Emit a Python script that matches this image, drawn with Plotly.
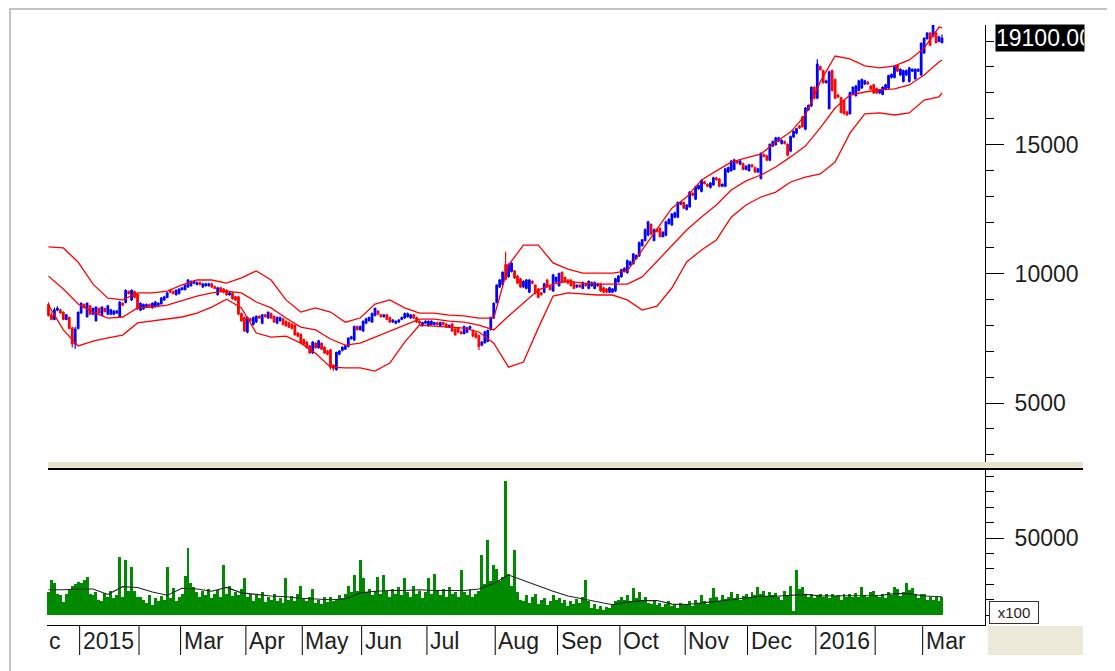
import plotly.graph_objects as go

# ---------------- data ----------------
# month axis: label shown after each month separator, and trading bars in that month
month_labels = ["c", "2015", "", "Mar", "Apr", "May", "Jun", "Jul", "Aug", "Sep",
                "Oct", "Nov", "Dec", "2016", "", "Mar"]
month_bars = [11, 20, 14, 22, 19, 20, 22, 23, 21, 21, 22, 21, 23, 20, 16, 7]

open_px = [
    8800, 8400, 8250, 8600, 8600, 8500, 8250, 8300, 7900, 7300, 7900,
    8500, 8800, 8350, 8750, 8450, 8200, 8650, 8400, 8650, 8450, 8450, 8450, 8500, 8350, 8850, 8900, 9300, 9000, 9300, 9200,
    8600, 8650, 8750, 8800, 8700, 8750, 8800, 8850, 9000, 9100, 9350, 9300, 9200, 9250,
    9400, 9400, 9500, 9550, 9650, 9600, 9650, 9500, 9550, 9550, 9600, 9500, 9200, 9450, 9400, 9350, 9200, 9250, 9100, 9100, 8450, 8300,
    7750, 8250, 8050, 8150, 8350, 8100, 8400, 8300, 8450, 8350, 8100, 8200, 8250, 8150, 8100, 8050, 8000, 7700, 7650,
    7450, 7350, 7200, 6950, 7300, 7150, 7300, 7150, 7000, 7050, 6450, 6300, 6900, 7050, 7100, 7200, 7500, 7450, 7950, 7850,
    7800, 8100, 8200, 8150, 8400, 8550, 8400, 8350, 8400, 8300, 8150, 8100, 8150, 8250, 8300, 8350, 8300, 8400, 8300, 8150, 8000, 8100,
    8000, 8050, 8050, 8100, 8000, 8100, 8050, 7950, 8050, 7850, 7900, 7750, 7700, 7750, 7900, 7800, 7700, 7600, 7250, 7350, 7400, 7850, 8300,
    8900, 9500, 9600, 10350, 9900, 10100, 10100, 9900, 9800, 9500, 9450, 9300, 9700, 9550, 9400, 9250, 9300, 9750, 9500, 9350, 9700,
    9550, 10050, 9850, 9750, 9750, 9650, 9500, 9550, 9450, 9600, 9450, 9550, 9450, 9550, 9600, 9450, 9400, 9300, 9300, 9350, 9700,
    9900, 10100, 10050, 10350, 10400, 10600, 10700, 11100, 11300, 11500, 11900, 11300, 11700, 11750, 11450, 11500, 11950, 11900, 12200, 12200, 12700, 12750,
    12500, 12600, 13100, 12900, 13300, 13200, 13550, 13450, 13350, 13450, 13700, 13650, 13400, 13400, 13950, 14000, 14050, 14350, 14250, 14250, 14050,
    14000, 14200, 14100, 13950, 13700, 14600, 14550, 14400, 14950, 15000, 15150, 15050, 15100, 15000, 14750, 15300, 15450, 15700, 16050, 15600, 16350, 16500, 17200,
    16800, 18000, 17850, 17400, 16400, 17850, 17500, 16900, 16800, 16700, 16250, 16200, 16950, 16900, 17100, 17200, 17350, 17400, 17250, 17300,
    17150, 17000, 16950, 17150, 17200, 17600, 17600, 18050, 17700, 17450, 17700, 17450, 17850, 17550, 17850, 17700,
    18550, 19100, 19300, 19200, 19300, 19000, 18950,
]
high_px = [
    8900, 8500, 8700, 8750, 8650, 8550, 8450, 8350, 7950, 7950, 8550,
    8900, 8850, 8900, 8800, 8700, 8750, 8700, 8750, 8700, 8800, 8650, 8600, 8600, 8950, 8900, 9400, 9350, 9400, 9350, 9250,
    8900, 8850, 8850, 8850, 8900, 8950, 8900, 9100, 9150, 9300, 9400, 9350, 9400, 9450,
    9500, 9600, 9800, 9750, 9750, 9700, 9700, 9650, 9650, 9650, 9650, 9550, 9500, 9500, 9450, 9400, 9300, 9300, 9150, 9150, 8500, 8350,
    8350, 8300, 8350, 8400, 8400, 8450, 8450, 8550, 8500, 8400, 8350, 8350, 8300, 8200, 8150, 8100, 8050, 7750, 7700,
    7500, 7400, 7250, 7400, 7350, 7450, 7350, 7200, 7050, 7100, 6500, 7000, 7050, 7200, 7250, 7550, 7600, 8000, 8000, 8000,
    8200, 8300, 8350, 8500, 8700, 8600, 8450, 8450, 8450, 8350, 8250, 8200, 8250, 8350, 8500, 8500, 8450, 8450, 8350, 8200, 8150, 8200,
    8200, 8200, 8150, 8150, 8150, 8150, 8100, 8050, 8100, 7900, 7950, 7800, 8000, 7950, 8000, 7850, 7750, 7650, 7400, 7800, 7850, 8350, 8900,
    9600, 9800, 10100, 10850, 10400, 10450, 10150, 9950, 9850, 9750, 9800, 9800, 9750, 9600, 9450, 9300, 9650, 9800, 9550, 10000, 9900,
    10050, 10100, 9900, 9800, 9800, 9700, 9600, 9600, 9700, 9650, 9750, 9700, 9700, 9650, 9650, 9500, 9450, 9500, 9450, 9850, 9950,
    10200, 10250, 10550, 10500, 10800, 10750, 11250, 11350, 11750, 12050, 11950, 11750, 11750, 11800, 11650, 12050, 12150, 12350, 12400, 12800, 12800, 12800,
    12700, 13200, 13150, 13400, 13450, 13650, 13600, 13500, 13550, 13750, 13750, 13700, 13500, 14100, 14150, 14400, 14450, 14400, 14400, 14300, 14200,
    14250, 14250, 14150, 14100, 14700, 14650, 14600, 15050, 15150, 15300, 15300, 15200, 15150, 15050, 15350, 15550, 15650, 15750, 16100, 16450, 16550, 17250, 17250,
    18300, 18050, 17900, 17500, 17850, 17900, 17550, 16950, 16850, 16750, 16300, 17050, 17250, 17300, 17500, 17550, 17500, 17450, 17300, 17350,
    17200, 17150, 17250, 17350, 17700, 17750, 18050, 18100, 17950, 17900, 17900, 18000, 17950, 17950, 17950, 18950,
    19150, 19350, 19350, 19650, 19350, 19200, 19250,
]
low_px = [
    8350, 8200, 8200, 8550, 8450, 8200, 8200, 7850, 7150, 7100, 7850,
    8450, 8650, 8300, 8400, 8400, 8150, 8450, 8350, 8500, 8400, 8400, 8400, 8450, 8300, 8750, 8850, 9200, 8950, 9050, 8600,
    8550, 8600, 8700, 8700, 8650, 8700, 8750, 8800, 8950, 9050, 9250, 9200, 9150, 9200,
    9350, 9350, 9450, 9500, 9600, 9550, 9550, 9450, 9500, 9500, 9450, 9400, 9150, 9300, 9250, 9150, 9150, 9000, 8950, 8400, 8150, 7750,
    7700, 8150, 8000, 8100, 8250, 8050, 8300, 8250, 8250, 8100, 8050, 8150, 8000, 7950, 7900, 7850, 7600, 7550, 7300,
    7250, 7100, 6900, 6900, 7100, 7100, 7050, 6900, 6850, 6300, 6250, 6250, 6850, 7000, 7050, 7150, 7450, 7400, 7800, 7800,
    7750, 8050, 8150, 8100, 8350, 8400, 8300, 8300, 8200, 8100, 8100, 8050, 8100, 8200, 8250, 8300, 8250, 8250, 8100, 8050, 7950, 8050,
    7950, 8000, 8000, 8000, 7950, 8000, 7900, 7900, 7750, 7600, 7700, 7650, 7650, 7700, 7850, 7550, 7500, 7050, 7200, 7300, 7350, 7800, 8250,
    8850, 9450, 9550, 9750, 9850, 10050, 9800, 9600, 9450, 9450, 9400, 9250, 9600, 9200, 9050, 9150, 9250, 9450, 9350, 9300, 9650,
    9500, 9650, 9650, 9600, 9500, 9400, 9450, 9450, 9400, 9500, 9400, 9500, 9400, 9500, 9300, 9250, 9250, 9250, 9250, 9300, 9650,
    9850, 10050, 10000, 10300, 10350, 10550, 10650, 11050, 11250, 11450, 11500, 11250, 11600, 11400, 11400, 11450, 11900, 11850, 12150, 12150, 12650, 12500,
    12450, 12550, 13000, 12850, 13250, 13150, 13450, 13350, 13300, 13400, 13600, 13350, 13350, 13350, 13900, 13950, 14000, 14250, 14200, 14000, 14000,
    13950, 14100, 13900, 13900, 13650, 14500, 14350, 14350, 14900, 14950, 15100, 15000, 15000, 14550, 14700, 15250, 15400, 15600, 15650, 15550, 16300, 16450, 16750,
    16750, 17850, 17350, 17350, 16350, 17050, 16750, 16800, 16200, 16150, 16100, 16150, 16900, 16850, 17050, 17150, 17300, 17300, 17100, 16950,
    16950, 16950, 16900, 17100, 17150, 17550, 17550, 17800, 17650, 17400, 17650, 17400, 17800, 17500, 17800, 17650,
    18500, 19050, 18800, 19150, 18900, 18950, 18900,
]
close_px = [
    8400, 8250, 8600, 8650, 8500, 8250, 8400, 7900, 7300, 7850, 8500,
    8850, 8700, 8850, 8450, 8650, 8700, 8500, 8700, 8550, 8750, 8600, 8550, 8550, 8900, 8800, 9350, 9250, 9350, 9100, 8650,
    8850, 8800, 8800, 8750, 8850, 8900, 8850, 9050, 9100, 9250, 9300, 9250, 9350, 9400,
    9450, 9550, 9750, 9700, 9700, 9650, 9600, 9600, 9600, 9600, 9500, 9450, 9450, 9350, 9300, 9200, 9250, 9050, 9000, 8450, 8200, 7800,
    8300, 8200, 8300, 8350, 8300, 8400, 8350, 8500, 8300, 8150, 8300, 8300, 8050, 8000, 7950, 7900, 7650, 7600, 7350,
    7300, 7150, 6950, 7350, 7150, 7400, 7100, 6950, 6900, 6400, 6350, 6950, 7000, 7150, 7200, 7500, 7550, 7950, 7850, 7950,
    8150, 8250, 8300, 8450, 8650, 8450, 8350, 8400, 8250, 8150, 8200, 8150, 8200, 8300, 8450, 8450, 8400, 8300, 8150, 8100, 8100, 8150,
    8150, 8150, 8100, 8050, 8100, 8050, 7950, 8000, 7800, 7650, 7750, 7700, 7950, 7900, 7950, 7600, 7550, 7200, 7350, 7750, 7800, 8300, 8850,
    9550, 9750, 10050, 9800, 10350, 10400, 9850, 9650, 9500, 9700, 9750, 9750, 9650, 9250, 9100, 9200, 9600, 9500, 9400, 9950, 9850,
    10000, 9700, 9700, 9650, 9550, 9450, 9550, 9500, 9650, 9550, 9700, 9650, 9650, 9600, 9350, 9300, 9300, 9450, 9400, 9800, 9900,
    10150, 10200, 10500, 10450, 10750, 10700, 11200, 11300, 11700, 12000, 11550, 11700, 11650, 11450, 11600, 12000, 12100, 12300, 12350, 12750, 12750, 12550,
    12650, 13150, 13050, 13350, 13400, 13600, 13500, 13400, 13500, 13700, 13650, 13400, 13450, 14050, 14100, 14350, 14400, 14300, 14350, 14050, 14150,
    14200, 14150, 13950, 14050, 14650, 14550, 14400, 15000, 15100, 15250, 15250, 15150, 15050, 14600, 15300, 15500, 15600, 15650, 15700, 16400, 16500, 17200, 16800,
    18100, 17900, 17400, 17450, 17800, 17100, 16800, 16850, 16250, 16200, 16150, 17000, 17200, 17250, 17450, 17500, 17450, 17350, 17150, 17000,
    17000, 17100, 17200, 17300, 17650, 17700, 18000, 17850, 17900, 17850, 17850, 17950, 17900, 17900, 17900, 18900,
    19100, 19300, 18850, 19600, 18950, 19150, 19100,
]
volume = [
    15000, 22600, 21000, 14000, 13000, 8500, 13500, 17000, 19000, 20000, 21500,
    21000, 23000, 24500, 14000, 13000, 15000, 10000, 9000, 14500, 12000, 16000, 11000, 13000, 37500, 12000, 35500, 16000, 31000, 16000, 12000,
    12000, 10000, 8000, 13000, 6500, 11000, 9000, 12500, 10000, 31000, 11000, 17500, 9000, 12000,
    14000, 25500, 43300, 21000, 18000, 15000, 12000, 16000, 13000, 17000, 11000, 14000, 16500, 12000, 32300, 14000, 19000, 12500, 15000, 13000, 17000, 24000,
    12000, 14000, 9000, 13000, 11000, 15000, 8500, 12000, 10000, 13500, 9500, 11000, 8000, 24000, 10000, 12500, 9000, 14000, 19000,
    11000, 9000, 12000, 17000, 8000, 10000, 7000, 11500, 8500, 12000, 9000, 10500, 13000, 11000, 14000, 19000, 15000, 25900, 16000, 35500,
    24000, 15000, 17000, 13000, 16000, 25000, 14000, 26000, 16000, 12000, 17000, 14000, 18000, 13000, 24000, 15000, 12000, 19000, 14000, 16000, 11000, 15000,
    24000, 14000, 27000, 16000, 13000, 17000, 12000, 18000, 14000, 15000, 12000, 29000, 15000, 13000, 17000, 12000, 14000, 16000, 38800, 20000, 48500, 22000, 32300,
    30000, 22000, 25000, 86600, 27000, 19000, 42000, 15000, 10000, 9000, 13000, 8000, 12000, 14000, 7000, 10000, 11000, 6500, 9000, 13000, 10000,
    11000, 8000, 10000, 6000, 9000, 7000, 10500, 8000, 12000, 22600, 9000, 5000, 7000, 4000, 6000, 3500, 5500, 4500, 7500, 9000, 10000,
    12000, 10000, 13000, 9000, 17500, 11000, 15000, 9500, 12000, 8000, 7000, 9000, 6500, 8000, 5500, 7500, 9000, 6000, 7000, 5000, 8000, 6500,
    7000, 9000, 6000, 10000, 8000, 13000, 9000, 7500, 11000, 17500, 12000, 9000, 13000, 10500, 12000, 15000, 11000, 13500, 10000, 12500, 14000,
    12000, 15000, 13000, 18000, 14000, 16000, 12500, 15000, 13000, 14500, 12000, 10000, 15500, 13000, 19000, 3000, 29000, 17000, 18000, 14000, 12000, 13500, 11000,
    13000, 14000, 12000, 13500, 11000, 14000, 12500, 13000, 10000, 14000, 12000, 13500, 11500, 14500, 12000, 18000, 13000, 12000, 15000, 16000,
    13000, 12000, 14000, 11000, 15000, 13000, 18000, 17000, 12500, 15000, 20700, 16500, 17500, 14000, 11000, 13500,
    14000, 10000, 11500, 10000, 12500, 9500, 12000,
]

# Bollinger bands and volume average at every 5th bar
band_idx = [0, 5, 10, 15, 20, 25, 30, 35, 40, 45, 50, 55, 60, 65, 70, 75, 80, 85, 90, 95,
            100, 105, 110, 115, 120, 125, 130, 135, 140, 145, 150, 155, 160, 165, 170, 175, 180, 185, 190, 195,
            200, 205, 210, 215, 220, 225, 230, 235, 240, 245, 250, 255, 260, 265, 270, 275, 280, 285, 290, 295,
            300, 301]
band_upper = [11040, 11000, 10450, 9600, 9060, 8990, 9260, 9260, 9330, 9570,
              9760, 9760, 9640, 9840, 10110, 9760, 8990, 8520, 8680, 8520,
              8130, 8290, 8830, 8990, 8680, 8480, 8480, 8400, 8370, 8290,
              8290, 10340, 11110, 11110, 10420, 10180, 10030, 10030, 10030, 10110,
              10920, 11770, 12540, 12970, 13630, 13980, 14320, 14480, 14630, 15100,
              15480, 16140, 17420, 18420, 18310, 18040, 17960, 18040, 18270, 18730,
              19540, 19510]
band_mid = [9910, 9410, 8830, 8520, 8290, 8330, 8680, 8710, 8790, 8950,
            9140, 9260, 9330, 9260, 8910, 8680, 8290, 7940, 7830, 7480,
            7240, 7320, 7550, 7790, 8020, 8250, 8250, 8170, 8130, 8020,
            7830, 8370, 8870, 9370, 9600, 9720, 9640, 9600, 9600, 9600,
            9880, 10490, 11070, 11690, 12200, 12660, 13240, 13590, 13820, 14130,
            14520, 14940, 15640, 16410, 16910, 17030, 17110, 17150, 17300, 17690,
            18190, 18270]
band_lower = [8790, 7830, 7210, 7400, 7520, 7630, 8100, 8170, 8250, 8330,
              8480, 8710, 9020, 8680, 7710, 7550, 7590, 7320, 6930, 6390,
              6360, 6360, 6240, 6550, 7360, 8020, 7980, 7940, 7900, 7750,
              7320, 6390, 6590, 7900, 9140, 9260, 9220, 9180, 9180, 8990,
              8600, 8750, 9450, 10460, 10920, 11310, 12190, 12660, 12970, 13160,
              13550, 13740, 13860, 14320, 15440, 16180, 16220, 16140, 16220, 16720,
              16840, 16990]
vol_avg = [16500, 16500, 17000, 17000, 13500, 18500, 18000, 15000, 13000, 17500,
           17000, 15500, 18000, 14500, 13500, 12500, 12000, 11000, 10500, 10000,
           10500, 14500, 15500, 16000, 16000, 16500, 16000, 16000, 16000, 17000,
           20500, 26000, 22500, 18500, 15500, 12500, 10500, 8500, 6800, 8500,
           9500, 9500, 7200, 7000, 7800, 9000, 10000, 11000, 12300, 12300,
           12800, 13500, 12500, 12500, 12500, 12500, 12800, 14000, 14000, 12500,
           12000, 12000]

price_ticks = [5000, 10000, 15000]
volume_ticks = [50000]
volume_unit = "x100"

# ---------------- layout geometry (pixels of the 1115x671 page) ----------------
PAGE_W, PAGE_H = 1115, 671
BODY = 8                      # default page margin around the plot div
W, H = PAGE_W - BODY, PAGE_H - BODY
PL, PR, PT, PB = 47, 985, 25, 625   # plot area in page pixels


def px(xp):
    return (xp - PL) / (PR - PL)


def py(yp):
    return (PB - yp) / (PB - PT)


n = len(close_px)
assert all(len(a) == n for a in (open_px, high_px, low_px, volume)), "length mismatch"
assert sum(month_bars) == n
bar_idx = list(range(n))

FONT = "Liberation Sans, Arial, sans-serif"
TXT = "#1e1e1e"

fig = go.Figure()

# volume panel
fig.add_trace(go.Bar(x=bar_idx, y=volume, yaxis="y2", marker=dict(color="#008A00", line=dict(width=0)),
                     hoverinfo="skip"))
fig.add_trace(go.Scatter(x=band_idx, y=vol_avg, yaxis="y2", mode="lines",
                         line=dict(color="#222222", width=1.1), hoverinfo="skip"))

# bollinger bands
for band in (band_upper, band_mid, band_lower):
    fig.add_trace(go.Scatter(x=band_idx, y=band, yaxis="y", mode="lines",
                             line=dict(color="#FF0000", width=1.3), hoverinfo="skip"))

# candles
fig.add_trace(go.Candlestick(
    x=bar_idx, open=open_px, high=high_px, low=low_px, close=close_px, yaxis="y",
    increasing=dict(line=dict(color="#0000FF", width=1.2), fillcolor="#0000FF"),
    decreasing=dict(line=dict(color="#FF0000", width=1.2), fillcolor="#FF0000"),
    whiskerwidth=0, hoverinfo="skip"))

axis_font = dict(family=FONT, size=23, color=TXT)

fig.update_layout(
    width=W, height=H,
    margin=dict(l=PL - BODY, r=PAGE_W - PR, t=PT - BODY, b=PAGE_H - PB),
    paper_bgcolor="white", plot_bgcolor="white",
    showlegend=False, bargap=0, boxgap=0.25,
    xaxis=dict(domain=[0, 1], range=[-0.5, 315.5], anchor="y2",
               showline=True, linecolor="black", linewidth=1,
               showticklabels=False, ticks="", showgrid=False, zeroline=False,
               rangeslider=dict(visible=False), fixedrange=True),
    yaxis=dict(domain=[py(467), 1], range=[2530, 19620], side="right", anchor="x",
               showline=True, linecolor="black", linewidth=1,
               ticks="outside", ticklen=18, tickwidth=1, tickcolor="black",
               tickmode="array", tickvals=price_ticks, ticktext=[str(v) for v in price_ticks],
               ticklabelstandoff=6,
               minor=dict(ticks="outside", ticklen=8, tickwidth=1, tickcolor="black",
                          tickmode="linear", tick0=0, dtick=1000, showgrid=False),
               showgrid=False, zeroline=False, tickfont=axis_font, fixedrange=True),
    yaxis2=dict(domain=[0, py(470)], range=[-6300, 94000], side="right", anchor="x",
                showline=True, linecolor="black", linewidth=1,
                ticks="outside", ticklen=18, tickwidth=1, tickcolor="black",
                tickmode="array", tickvals=volume_ticks, ticktext=[str(v) for v in volume_ticks],
                ticklabelstandoff=6,
                minor=dict(ticks="outside", ticklen=8, tickwidth=1, tickcolor="black",
                           tickmode="linear", tick0=0, dtick=10000, showgrid=False),
                showgrid=False, zeroline=False, tickfont=axis_font, fixedrange=True),
)

shapes = []
# outer light-grey frame
shapes.append(dict(type="rect", xref="paper", yref="paper", x0=px(10), x1=px(1112), y0=py(720), y1=py(9),
                   line=dict(color="#C4C4C4", width=2), fillcolor="rgba(0,0,0,0)", layer="below"))
# panel separator: beige strip + black rule
shapes.append(dict(type="rect", xref="paper", yref="paper", x0=px(48), x1=px(1083), y0=py(467.5), y1=py(462),
                   line=dict(width=0), fillcolor="#E6E2CC"))
shapes.append(dict(type="line", xref="paper", yref="paper", x0=px(48), x1=px(1083), y0=py(469), y1=py(469),
                   line=dict(color="black", width=2)))
# beige box under the right axis
shapes.append(dict(type="rect", xref="paper", yref="paper", x0=px(988), x1=px(1083), y0=py(655), y1=py(626),
                   line=dict(width=0), fillcolor="#ECE9D8"))

annotations = []
start = 0
for i, (lab, cnt) in enumerate(zip(month_labels, month_bars)):
    if i == 0:
        annotations.append(dict(text=lab, xref="paper", yref="paper", x=px(PL), y=py(641),
                                xanchor="left", yanchor="middle", showarrow=False,
                                font=dict(family=FONT, size=23, color=TXT)))
    else:
        shapes.append(dict(type="line", xref="x", yref="paper", x0=start - 0.5, x1=start - 0.5,
                           y0=py(625), y1=py(655), line=dict(color="black", width=1)))
        if lab:
            annotations.append(dict(text=lab, xref="x", yref="paper", x=start - 0.5, y=py(641),
                                    xanchor="left", yanchor="middle", xshift=1, showarrow=False,
                                    font=dict(family=FONT, size=23, color=TXT)))
    start += cnt

# last price tag
annotations.append(dict(text=f"{close_px[-1]:.2f}", xref="paper", yref="y", x=px(995), y=close_px[-1],
                        xanchor="left", yanchor="middle", showarrow=False, align="left",
                        width=88, height=26, bgcolor="black", borderpad=0,
                        font=dict(family=FONT, size=23, color="white")))
# volume unit box
annotations.append(dict(text=volume_unit, xref="paper", yref="paper", x=px(989), y=py(612),
                        xanchor="left", yanchor="middle", showarrow=False,
                        width=48, height=21, bgcolor="white", bordercolor="#333333", borderwidth=1, borderpad=0,
                        font=dict(family=FONT, size=15, color=TXT)))

fig.update_layout(shapes=shapes, annotations=annotations)

fig.write_html("out.html")
